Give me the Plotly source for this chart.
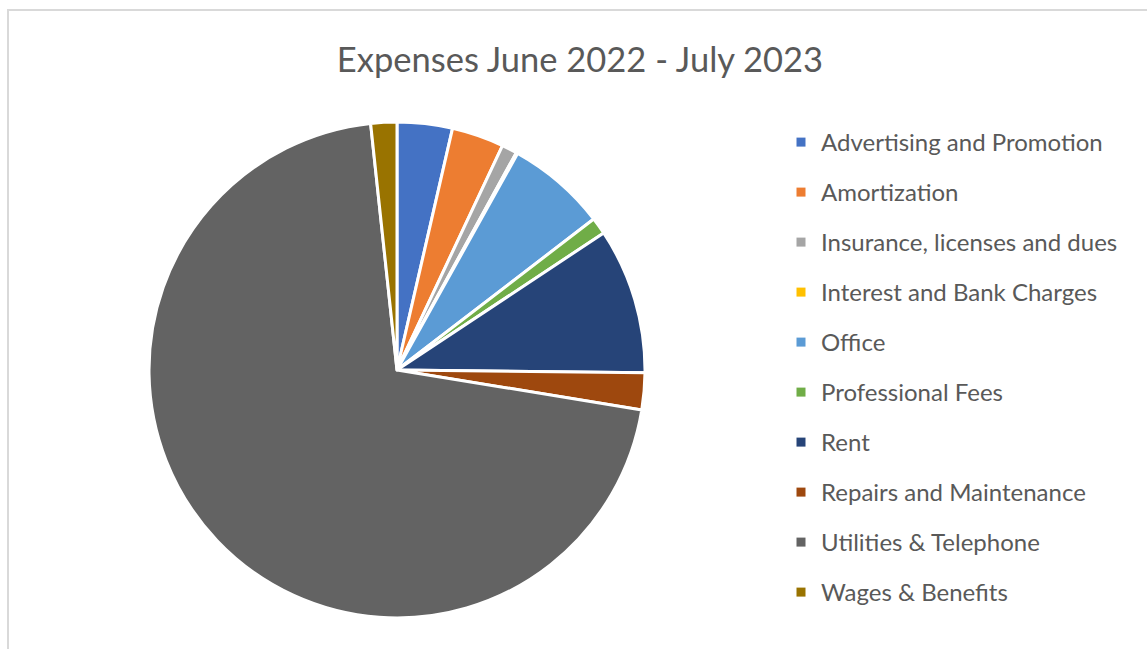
import plotly.graph_objects as go

categories = [
    "Advertising and Promotion",
    "Amortization",
    "Insurance, licenses and dues",
    "Interest and Bank Charges",
    "Office",
    "Professional Fees",
    "Rent",
    "Repairs and Maintenance",
    "Utilities & Telephone",
    "Wages & Benefits",
]
shares = [3.6, 3.4, 1.0, 0.1, 6.5, 1.1, 9.5, 2.4, 70.8, 1.7]
colors = ["#4472C4", "#ED7D31", "#A5A5A5", "#FFC000", "#5B9BD5",
          "#70AD47", "#264478", "#9E480E", "#636363", "#997300"]

W, H = 1147, 649
FONT = "Lato, 'Open Sans', sans-serif"

fig = go.Figure()
fig.add_trace(go.Pie(
    labels=categories, values=shares, sort=False, direction="clockwise",
    rotation=0, textinfo="none", hoverinfo="label+percent",
    marker=dict(colors=colors, line=dict(color="white", width=3)),
    showlegend=False,
    domain=dict(x=[149 / W, 645 / W], y=[1 - 618 / H, 1 - 122 / H]),
))
for name, col in zip(categories, colors):
    fig.add_trace(go.Scatter(
        x=[None], y=[None], mode="markers", name=name, legendgroup=name,
        marker=dict(symbol="square", size=9, color=col),
        showlegend=True, hoverinfo="skip",
    ))

fig.update_layout(
    width=W, height=H,
    margin=dict(l=0, r=0, t=0, b=0),
    paper_bgcolor="white", plot_bgcolor="white",
    xaxis=dict(visible=False), yaxis=dict(visible=False),
    title=dict(text="Expenses June 2022 - July 2023", x=580 / W, xanchor="center",
               y=1 - 60 / H, yanchor="middle",
               font=dict(family=FONT, size=34.5, color="#595959")),
    legend=dict(x=781 / W, xanchor="left", y=1 - 120 / H, yanchor="top",
                font=dict(family=FONT, size=24, color="#595959"),
                tracegroupgap=15.8, itemwidth=30, bgcolor="rgba(0,0,0,0)"),
    shapes=[dict(type="rect", xref="paper", yref="paper",
                 x0=8 / W, x1=1.05, y0=-0.05, y1=1 - 10 / H,
                 line=dict(color="#D9D9D9", width=2), fillcolor="rgba(0,0,0,0)")],
)

fig.write_html("out.html", config={"displayModeBar": False},
               post_script="document.body.style.margin='0';document.body.style.overflow='hidden';")
